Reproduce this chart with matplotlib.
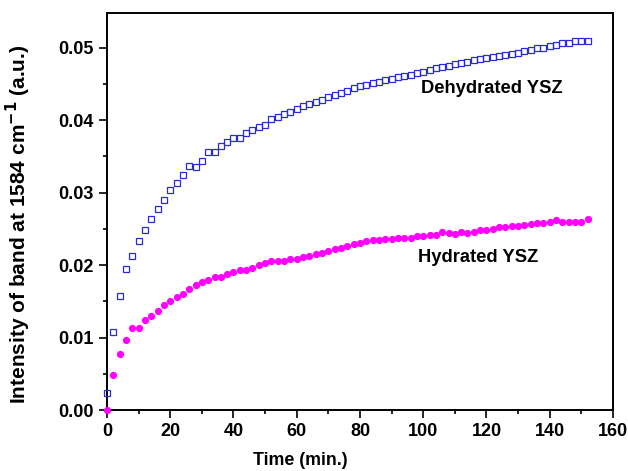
import numpy as np
import matplotlib
matplotlib.use("Agg")
import matplotlib.pyplot as plt
from matplotlib.ticker import MultipleLocator, FormatStrFormatter

plt.rcParams['font.family'] = ['Liberation Sans', 'DejaVu Sans']
plt.rcParams['font.weight'] = 'bold'
plt.rcParams['mathtext.default'] = 'bf'

# sampling times (min), one reading every 2 min
time = np.arange(0, 154, 2)

dehydrated = [
    0.0023, 0.0108, 0.0157, 0.0195, 0.0213, 0.0233, 0.0248, 0.0263, 0.0277, 0.0290,
    0.0304, 0.0314, 0.0324, 0.0337, 0.0336, 0.0344, 0.0356, 0.0356, 0.0365, 0.0370,
    0.0375, 0.0375, 0.0382, 0.0386, 0.0391, 0.0394, 0.0401, 0.0404, 0.0408, 0.0411,
    0.0415, 0.0419, 0.0423, 0.0425, 0.0428, 0.0432, 0.0435, 0.0438, 0.0441, 0.0444,
    0.0447, 0.0449, 0.0452, 0.0453, 0.0456, 0.0457, 0.0459, 0.0461, 0.0462, 0.0465,
    0.0467, 0.0469, 0.0472, 0.0473, 0.0475, 0.0477, 0.0479, 0.0481, 0.0483, 0.0484,
    0.0486, 0.0487, 0.0489, 0.0490, 0.0492, 0.0493, 0.0495, 0.0497, 0.0499, 0.0500,
    0.0502, 0.0504, 0.0506, 0.0507, 0.0509, 0.0510, 0.0510,
]

hydrated = [
    0.0000, 0.0048, 0.0077, 0.0096, 0.0113, 0.0113, 0.0124, 0.0130, 0.0137, 0.0145,
    0.0151, 0.0156, 0.0160, 0.0167, 0.0172, 0.0176, 0.0180, 0.0184, 0.0184, 0.0188,
    0.0191, 0.0193, 0.0193, 0.0196, 0.0200, 0.0203, 0.0205, 0.0205, 0.0206, 0.0208,
    0.0209, 0.0211, 0.0213, 0.0215, 0.0217, 0.0219, 0.0222, 0.0224, 0.0226, 0.0229,
    0.0231, 0.0233, 0.0234, 0.0235, 0.0236, 0.0236, 0.0237, 0.0237, 0.0238, 0.0240,
    0.0240, 0.0241, 0.0242, 0.0246, 0.0244, 0.0243, 0.0246, 0.0245, 0.0246, 0.0248,
    0.0249, 0.0250, 0.0252, 0.0253, 0.0254, 0.0254, 0.0256, 0.0257, 0.0258, 0.0258,
    0.0260, 0.0262, 0.0260, 0.0260, 0.0259, 0.0260, 0.0263,
]

fig = plt.figure(figsize=(6.28, 4.71), dpi=100)
ax = fig.add_axes([0.1704, 0.1295, 0.8056, 0.8429])

ax.plot(time, dehydrated, linestyle='none', marker='s', markersize=4.8,
        markerfacecolor='none', markeredgecolor='#2a2ad6', markeredgewidth=0.9,
        clip_on=False, zorder=3)
ax.plot(time, hydrated, linestyle='none', marker='o', markersize=5.2,
        color='#ff00ff', markeredgewidth=0, clip_on=False, zorder=3)

# series labels, placed next to each curve
ax.text(121.8, 0.0437, 'Dehydrated YSZ', fontsize=13.2, fontweight='bold',
        ha='center', va='baseline')
ax.text(117.4, 0.0204, 'Hydrated YSZ', fontsize=13.2, fontweight='bold',
        ha='center', va='baseline')

ax.set_xlim(0, 160)
ax.set_ylim(0, 0.0548)
ax.xaxis.set_major_locator(MultipleLocator(20))
ax.xaxis.set_minor_locator(MultipleLocator(10))
ax.yaxis.set_major_locator(MultipleLocator(0.01))
ax.yaxis.set_minor_locator(MultipleLocator(0.005))
ax.yaxis.set_major_formatter(FormatStrFormatter('%.2f'))

ax.tick_params(which='both', direction='out', top=False, right=False,
               width=1.2, labelsize=13, pad=4)
ax.tick_params(which='major', length=5.5)
ax.tick_params(which='minor', length=3)
for s in ax.spines.values():
    s.set_linewidth(1.4)

ax.set_xlabel('Time (min.)', fontsize=12.8, fontweight='bold')
ax.set_ylabel('Intensity of band at 1584 cm$^{-1}$ (a.u.)', fontsize=15,
              fontweight='bold')
ax.xaxis.set_label_coords(0.383, -0.105)
ax.yaxis.set_label_coords(-0.146, 0.468)

fig.savefig('out.png', dpi=100)
